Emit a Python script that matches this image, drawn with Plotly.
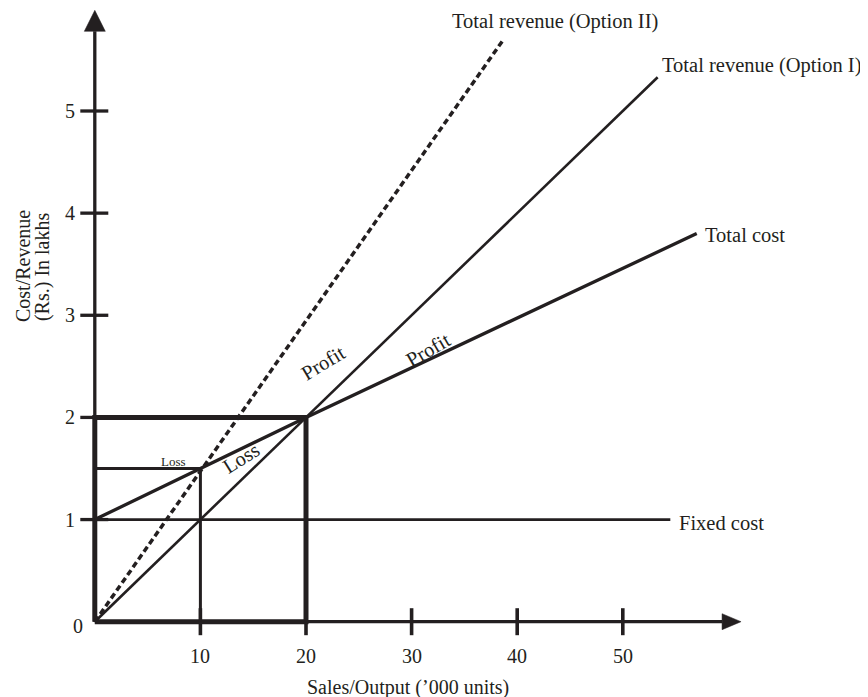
import plotly.graph_objects as go

# ---------------- data ----------------
x_ticks = [10, 20, 30, 40, 50]
y_ticks = [1, 2, 3, 4, 5]
x_tick_labels = ["10", "20", "30", "40", "50"]
y_tick_labels = ["1", "2", "3", "4", "5"]

fixed_x = [0, 54.5]
fixed_y = [1, 1]

cost_x = [0, 20, 57]
cost_y = [1, 2, 3.8]

rev1_x = [0, 53.3]
rev1_y = [0, 5.33]

rev2_x = [0, 38.7]
rev2_y = [0, 5.7]

box_x = [0, 0, 20, 20, 0]
box_y = [0, 2, 2, 0, 0]

guide_x = [0, 10, 10]
guide_y = [1.5, 1.5, 0]

x_axis_end = 59.4
y_axis_end = 5.78

# ---------------- geometry / style ----------------
W, H = 868, 697
PAGE_OFFSET = 8   # browser default body margin
PX_X = 10.56      # pixels per 1 x-unit
PX_Y = 102.14     # pixels per 1 y-unit
ORIGIN_PX = (94.8 - PAGE_OFFSET, 621.7 - PAGE_OFFSET)
x_range = [-ORIGIN_PX[0] / PX_X, (W - ORIGIN_PX[0]) / PX_X]
y_range = [-(H - ORIGIN_PX[1]) / PX_Y, ORIGIN_PX[1] / PX_Y]

INK = "#231f20"
FONT = "Liberation Serif"


def dx(px):
    return px / PX_X


def dy(px):
    return px / PX_Y


fig = go.Figure()


def line(xs, ys, width, dash="solid"):
    fig.add_trace(go.Scatter(x=xs, y=ys, mode="lines",
                             line=dict(color=INK, width=width, dash=dash),
                             hoverinfo="skip", showlegend=False))


# axes lines
line([0, x_axis_end], [0, 0], 3.3)
line([0, 0], [0, y_axis_end], 3.3)

# tick marks (crossing the axis)
for t in x_ticks:
    line([t, t], [dy(13.5), -dy(13.5)], 3.6)
for t in y_ticks:
    line([-dx(14.5), dx(13.5)], [t, t], 3.3)

# arrow heads
fig.add_trace(go.Scatter(
    x=[x_axis_end, x_axis_end, x_axis_end + dx(19), x_axis_end],
    y=[dy(8), -dy(8), 0, dy(8)], mode="lines", fill="toself",
    fillcolor=INK, line=dict(color=INK, width=0.5), hoverinfo="skip", showlegend=False))
fig.add_trace(go.Scatter(
    x=[-dx(10.5), dx(10.5), 0, -dx(10.5)],
    y=[y_axis_end, y_axis_end, y_axis_end + dy(21), y_axis_end], mode="lines", fill="toself",
    fillcolor=INK, line=dict(color=INK, width=0.5), hoverinfo="skip", showlegend=False))

# thick break-even box
line(box_x, box_y, 5)
# guide lines for loss region
line(guide_x, guide_y, 3)

# series
line(fixed_x, fixed_y, 2.8)
line(cost_x, cost_y, 3.3)
line(rev1_x, rev1_y, 2.6)
line(rev2_x, rev2_y, 3.5, dash="6px,3.5px")

annotations = []


def label(text, x, y, size=20.5, xanchor="center", yanchor="middle", xshift=0, yshift=0, angle=0):
    annotations.append(dict(text=text, x=x, y=y, xref="x", yref="y", showarrow=False,
                            xanchor=xanchor, yanchor=yanchor, xshift=xshift, yshift=yshift,
                            textangle=angle, font=dict(family=FONT, size=size, color=INK)))


# tick labels
for t, s in zip(x_ticks, x_tick_labels):
    label(s, t, 0, size=20, yshift=-34)
for t, s in zip(y_ticks, y_tick_labels):
    label(s, 0, t, size=20, xanchor="right", xshift=-18)
label("0", 0, 0, size=20, xanchor="right", xshift=-10, yshift=-4)

# axis titles
label("Sales/Output (\u2019000 units)", x_axis_end / 2, 0, size=20, yshift=-66)
label("Cost/Revenue", 0, 3.48, size=20, xshift=-72, angle=-90)
label("(Rs.) In lakhs", 0, 3.48, size=20, xshift=-53, angle=-90)

# line end labels
label("Total revenue (Option II)", rev2_x[-1], rev2_y[-1], xshift=52, yshift=18)
label("Total revenue (Option I)", rev1_x[-1], rev1_y[-1], xanchor="left", xshift=2, yshift=12)
label("Total cost", cost_x[-1], cost_y[-1], xanchor="left", xshift=6, yshift=-1)
label("Fixed cost", fixed_x[-1], fixed_y[-1], xanchor="left", xshift=7, yshift=-3)

# region labels
label("Profit", cost_x[1], cost_y[1], xshift=17, yshift=54, angle=-31)
label("Profit", cost_x[1], cost_y[1], xshift=122, yshift=67, angle=-30)
label("Loss", guide_x[1], guide_y[1], xshift=41, yshift=10, angle=-32)
label("Loss", guide_x[1], guide_y[1], size=13, xshift=-27, yshift=7)

fig.update_layout(
    width=W, height=H,
    margin=dict(l=0, r=0, t=0, b=0),
    paper_bgcolor="white", plot_bgcolor="white",
    xaxis=dict(range=x_range, visible=False, fixedrange=True),
    yaxis=dict(range=y_range, visible=False, fixedrange=True),
    annotations=annotations,
    showlegend=False,
)

fig.write_html("out.html")
